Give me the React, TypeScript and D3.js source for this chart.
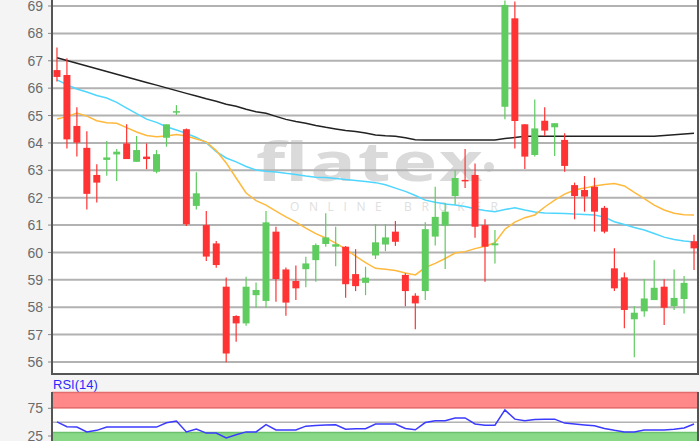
import React from 'react';
import * as d3 from 'd3';

// candle data (65 sessions)
const opens = [66.66, 66.48, 64.62, 63.82, 62.83, 63.38, 63.58, 63.98, 63.31, 63.5, 62.95, 64.19, 65.12, 64.5, 61.7, 61.0, 60.33, 58.75, 57.68, 57.41, 58.44, 58.23, 60.76, 59.38, 58.96, 59.39, 59.72, 60.31, 60.21, 60.21, 59.21, 58.89, 59.89, 60.29, 60.76, 59.18, 58.42, 58.59, 60.58, 60.98, 62.06, 62.65, 62.83, 61.0, 60.26, 65.32, 68.55, 64.68, 63.56, 64.81, 64.57, 64.11, 62.46, 62.28, 62.4, 61.63, 59.42, 59.09, 57.56, 57.85, 58.26, 58.75, 58.04, 58.3, 60.41];
const highs = [67.48, 67.09, 65.3, 64.43, 63.22, 64.07, 63.78, 64.68, 64.25, 63.98, 63.74, 64.68, 65.38, 64.53, 62.93, 61.51, 60.42, 59.09, 57.71, 59.11, 58.9, 61.51, 60.94, 59.45, 59.52, 59.84, 60.33, 61.43, 60.94, 60.24, 60.12, 59.48, 61.04, 61.04, 61.15, 59.24, 58.51, 61.1, 62.4, 61.8, 63.0, 63.78, 63.25, 61.21, 60.82, 69.2, 69.16, 64.68, 65.59, 65.3, 64.72, 64.35, 62.55, 62.79, 62.73, 61.7, 60.15, 59.27, 58.04, 59.03, 59.72, 59.02, 59.38, 59.14, 60.65];
const lows = [66.24, 63.8, 63.5, 61.57, 61.82, 62.8, 62.61, 63.41, 63.31, 63.04, 62.89, 63.86, 65.02, 60.97, 61.57, 59.69, 59.44, 55.99, 56.74, 57.32, 57.98, 57.98, 58.2, 57.69, 58.26, 58.73, 58.93, 60.21, 59.5, 58.35, 58.59, 58.44, 59.76, 60.05, 60.24, 58.04, 57.2, 58.26, 60.25, 59.4, 61.75, 62.35, 60.54, 58.93, 59.6, 64.86, 63.8, 63.05, 63.5, 64.25, 63.52, 62.95, 61.21, 61.49, 60.76, 60.7, 58.59, 57.23, 56.17, 57.65, 58.26, 57.35, 57.9, 57.77, 59.36];
const closes = [66.41, 64.13, 64.01, 62.14, 62.55, 63.47, 63.68, 63.41, 63.74, 63.41, 63.59, 64.68, 65.16, 61.03, 62.16, 59.85, 59.54, 56.31, 57.41, 58.75, 58.63, 61.1, 59.03, 58.17, 58.69, 59.6, 60.27, 60.55, 60.3, 58.84, 58.77, 59.08, 60.37, 60.55, 60.39, 58.59, 58.14, 60.85, 61.3, 61.49, 62.72, 62.62, 60.94, 60.21, 60.33, 69.04, 64.8, 63.5, 64.53, 64.45, 64.72, 63.16, 62.06, 62.04, 61.49, 60.76, 58.69, 57.9, 57.8, 58.32, 58.71, 57.98, 58.34, 58.89, 60.15];

// moving averages
const maLong = [67.11, 67.01, 66.91, 66.81, 66.71, 66.61, 66.51, 66.41, 66.31, 66.21, 66.11, 66.01, 65.91, 65.81, 65.71, 65.61, 65.52, 65.41, 65.34, 65.23, 65.14, 65.08, 64.97, 64.86, 64.78, 64.72, 64.64, 64.57, 64.51, 64.45, 64.42, 64.36, 64.29, 64.26, 64.24, 64.19, 64.12, 64.11, 64.11, 64.11, 64.11, 64.11, 64.11, 64.11, 64.11, 64.16, 64.2, 64.24, 64.24, 64.24, 64.24, 64.24, 64.24, 64.24, 64.24, 64.24, 64.24, 64.24, 64.24, 64.24, 64.24, 64.27, 64.3, 64.33, 64.35];
const maMid = [66.3, 66.13, 65.97, 65.86, 65.73, 65.64, 65.48, 65.27, 65.07, 64.87, 64.75, 64.59, 64.47, 64.35, 64.2, 64.01, 63.68, 63.45, 63.31, 63.14, 63.01, 62.97, 62.94, 62.89, 62.85, 62.79, 62.75, 62.74, 62.7, 62.66, 62.63, 62.59, 62.55, 62.47, 62.35, 62.23, 62.08, 61.91, 61.83, 61.77, 61.73, 61.68, 61.6, 61.53, 61.49, 61.57, 61.63, 61.55, 61.48, 61.44, 61.43, 61.42, 61.4, 61.39, 61.37, 61.29, 61.12, 61.02, 60.91, 60.82, 60.69, 60.56, 60.47, 60.42, 60.38];
const maShort = [64.87, 64.96, 65.09, 64.98, 64.81, 64.74, 64.72, 64.56, 64.4, 64.27, 64.23, 64.25, 64.31, 64.25, 64.14, 64.04, 63.72, 63.27, 62.72, 62.17, 61.89, 61.73, 61.51, 61.3, 61.11, 60.89, 60.69, 60.53, 60.34, 60.12, 59.87, 59.63, 59.42, 59.39, 59.34, 59.25, 59.18, 59.45, 59.6, 59.78, 59.98, 60.03, 60.14, 60.23, 60.36, 60.85, 61.11, 61.27, 61.37, 61.66, 61.91, 62.13, 62.28, 62.35, 62.43, 62.48, 62.52, 62.43, 62.19, 61.97, 61.73, 61.55, 61.43, 61.38, 61.37];

// RSI(14)
const rsi = [50.4, 41.7, 41.1, 32.4, 35.2, 41.1, 41.1, 41.1, 41.1, 41.1, 41.1, 48.9, 52.0, 32.4, 37.4, 30.2, 30.2, 21.5, 27.2, 32.4, 32.4, 45.4, 35.9, 35.9, 35.9, 42.8, 43.9, 45.0, 45.4, 37.4, 38.0, 38.0, 46.7, 46.7, 46.7, 38.5, 36.3, 49.3, 52.6, 52.6, 57.6, 57.6, 46.7, 44.6, 44.6, 72.2, 55.4, 52.6, 54.8, 55.4, 55.4, 48.3, 46.5, 45.0, 43.3, 38.5, 35.2, 32.4, 32.4, 35.9, 35.9, 35.9, 37.0, 39.6, 46.7];

const priceTicks = d3.range(56, 70);
const rsiTicks = [75, 25];

const W = 700;
const H = 441;
const left = 52;
const right = 698;
const plotTop = -2;
const plotBottom = 375;
const rsiTop = 392;

const UP = '#5fcc5f';
const DOWN = '#ff3333';

const App: React.FC = () => {
  const idx = d3.range(closes.length);
  const x = d3.scaleBand<number>()
    .domain(idx)
    .range([left, right + 1])
    .paddingInner(0.3)
    .paddingOuter(0.15);
  const cx = (i: number) => (x(i) ?? 0) + x.bandwidth() / 2;

  const y = d3.scaleLinear().domain([56, 69]).range([362, 6]);
  const yr = d3.scaleLinear().domain([25, 75]).range([436, 408.3]);

  const maLine = d3.line<number>().x((_, i) => cx(i)).y(d => y(d));
  const rsiLine = d3.line<number>().x((_, i) => cx(i)).y(d => yr(d));

  const font = '"Liberation Sans", Arial, sans-serif';

  return (
    <div style={{ position: 'absolute', left: 0, top: 0 }}>
      <svg width={W} height={H} style={{ display: 'block', fontFamily: font }}>
        <defs>
          <clipPath id='plot'>
            <rect x={left} y={plotTop} width={right - left} height={plotBottom - plotTop} />
          </clipPath>
          <clipPath id='rsi'>
            <rect x={left} y={rsiTop} width={right - left} height={H - rsiTop} />
          </clipPath>
        </defs>
        <rect width={W} height={H} fill='#f4f4f4' />

        {/* main panel */}
        <rect x={left} y={plotTop} width={right - left} height={plotBottom - plotTop} fill='#fff' />

        {/* watermark */}
        <g fill='#dadada'>
          <g transform='translate(256,181) scale(1.4,1)'>
            <text x={0} y={0} fontSize={54} fontWeight={700} fontFamily='"Open Sans", sans-serif'
              textLength={162} lengthAdjust='spacing'>flatex</text>
          </g>
          <circle cx={489} cy={167} r={5} />
          <text x={290} y={211} fontSize={12} fontFamily='"Open Sans", sans-serif'
            textLength={208} lengthAdjust='spacing' fill='#e0e0e0'>ONLINE BROKER</text>
        </g>

        {priceTicks.map(t => (
          <g key={t}>
            <line x1={left} x2={right} y1={y(t)} y2={y(t)} stroke='#b2b2b2' strokeWidth={2} />
            <line x1={48} x2={left} y1={y(t)} y2={y(t)} stroke='#888' strokeWidth={1} />
            <text x={43} y={y(t)} dy='0.36em' textAnchor='end' fontSize={14} fill='#6b6b6b'>{t}</text>
          </g>
        ))}

        <g clipPath='url(#plot)'>
          <path d={maLine(maLong) ?? ''} fill='none' stroke='#222' strokeWidth={1.5} />
          <path d={maLine(maMid) ?? ''} fill='none' stroke='#4fd6ff' strokeWidth={1.5} />
          <path d={maLine(maShort) ?? ''} fill='none' stroke='#ffb93c' strokeWidth={1.5} />
          {idx.map(i => {
            const up = closes[i] >= opens[i];
            const c = up ? UP : DOWN;
            const top = y(Math.max(opens[i], closes[i]));
            const bot = y(Math.min(opens[i], closes[i]));
            return (
              <g key={i}>
                <line x1={cx(i)} x2={cx(i)} y1={y(highs[i])} y2={y(lows[i])} stroke={c} strokeWidth={1.2} />
                <rect x={x(i)} y={top} width={x.bandwidth()} height={Math.max(1.5, bot - top)} fill={c} />
              </g>
            );
          })}
        </g>
        <line x1={left} x2={left} y1={plotTop} y2={plotBottom} stroke='#555' strokeWidth={2} />
        <line x1={left - 1} x2={right + 1} y1={plotBottom - 1} y2={plotBottom - 1} stroke='#555' strokeWidth={2} />
        <line x1={right} x2={right} y1={plotTop} y2={plotBottom} stroke='#555' strokeWidth={2} />

        {/* RSI panel */}
        <text x={53} y={389} fontSize={13} fill='#2a2aff'>RSI(14)</text>
        <rect x={left} y={rsiTop} width={right - left} height={H - rsiTop} fill='#fff' />
        <rect x={left} y={rsiTop} width={right - left} height={yr(75) - rsiTop} fill='#ff8888' />
        <line x1={left} x2={right} y1={rsiTop + 0.5} y2={rsiTop + 0.5} stroke='#e36d6d' strokeWidth={1.5} />
        <line x1={left} x2={right} y1={yr(75) - 0.5} y2={yr(75) - 0.5} stroke='#e36d6d' strokeWidth={1.5} />
        <rect x={left} y={yr(32)} width={right - left} height={H - yr(32)} fill='#88d888' />
        <line x1={left} x2={right} y1={yr(32) + 0.5} y2={yr(32) + 0.5} stroke='#6cbf6c' strokeWidth={1.5} />
        <line x1={left} x2={right} y1={yr(50)} y2={yr(50)} stroke='#b2b2b2' strokeWidth={1.5} />
        <g clipPath='url(#rsi)'>
          <path d={rsiLine(rsi) ?? ''} fill='none' stroke='#3b3bff' strokeWidth={1.5} />
        </g>
        {rsiTicks.map(t => (
          <g key={t}>
            <line x1={48} x2={left} y1={yr(t)} y2={yr(t)} stroke='#888' strokeWidth={1} />
            <text x={43} y={yr(t)} dy='0.36em' textAnchor='end' fontSize={14} fill='#6b6b6b'>{t}</text>
          </g>
        ))}
        <line x1={left} x2={left} y1={rsiTop} y2={H} stroke='#555' strokeWidth={2} />
        <line x1={right} x2={right} y1={rsiTop} y2={H} stroke='#555' strokeWidth={2} />
      </svg>
    </div>
  );
};

export default App;
